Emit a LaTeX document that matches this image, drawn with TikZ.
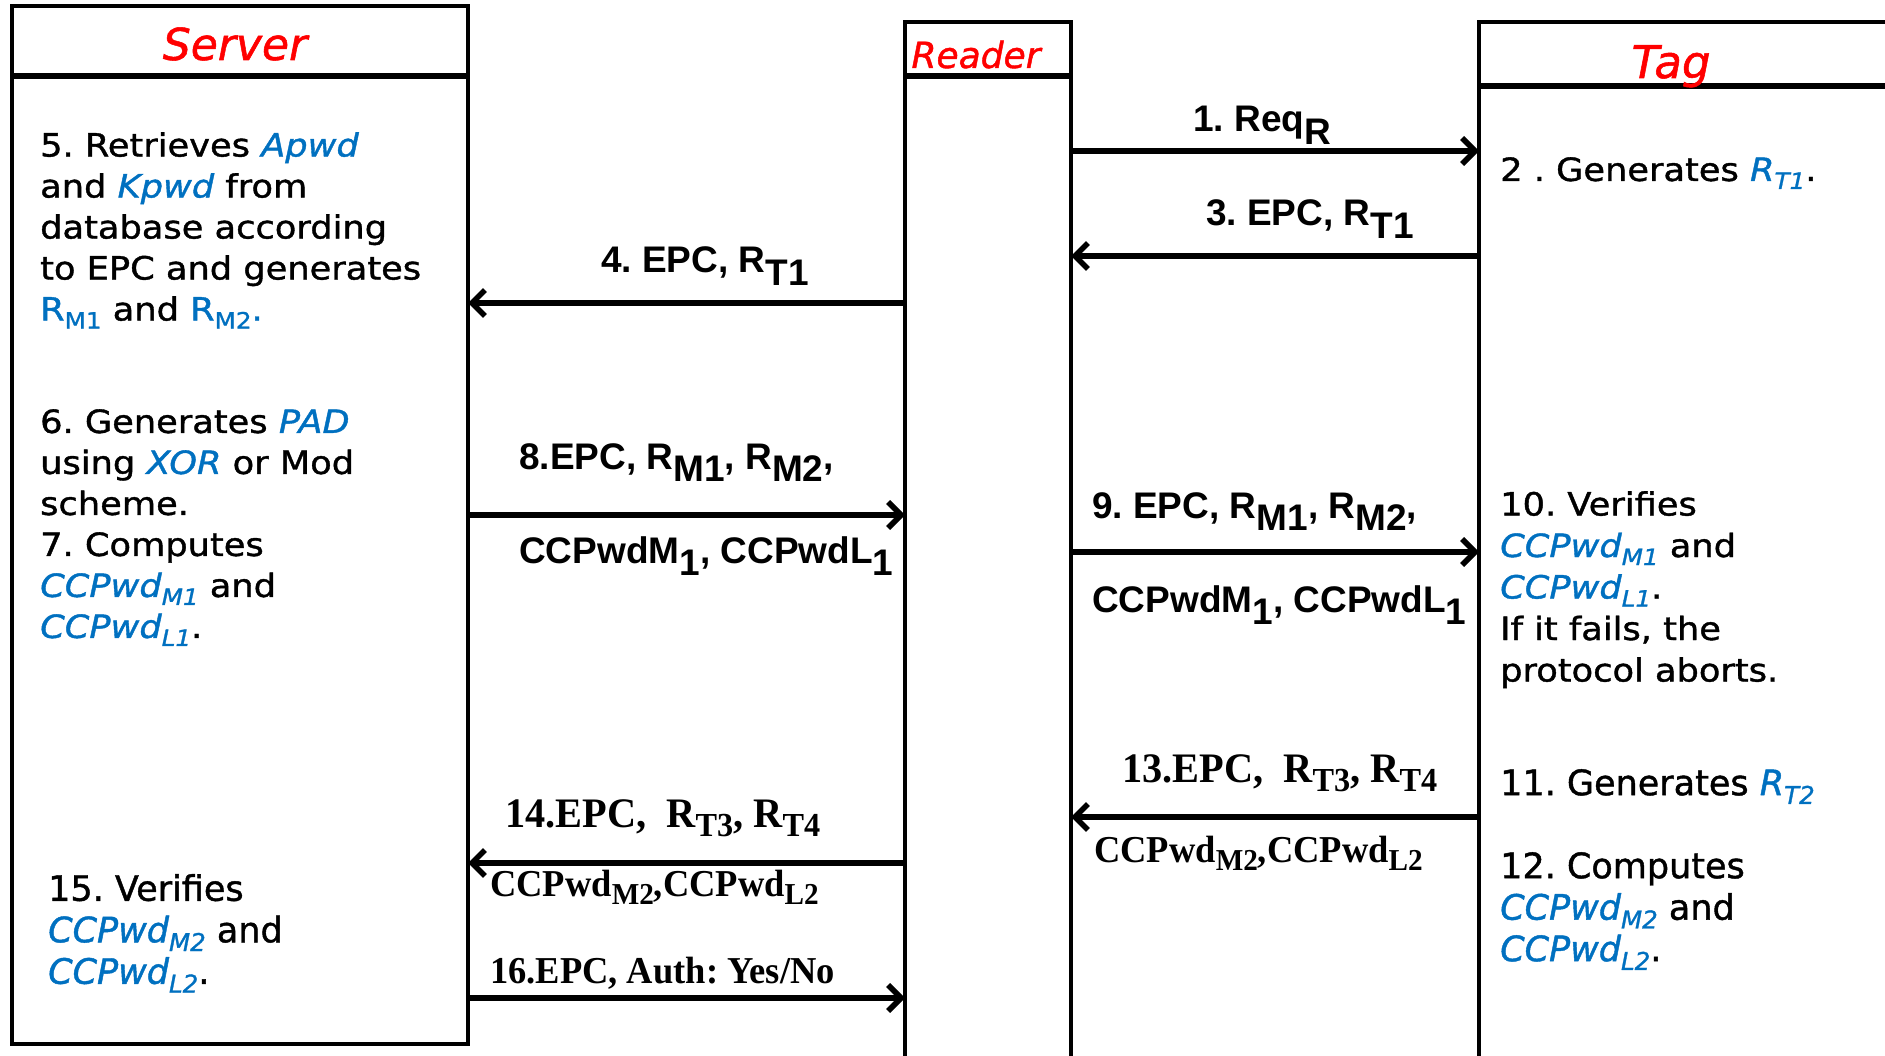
\documentclass[tikz,border=0pt]{standalone}
\usepackage{fontspec}
\usepackage{graphicx}
\usetikzlibrary{arrows.meta}
\newfontfamily\handw{DejaVu Sans}[FakeStretch=1.1,FakeBold=1.2]
\newfontfamily\handn{DejaVu Sans}[FakeBold=1.2]
\newfontfamily\arl{Liberation Sans}
\newfontfamily\tms{Liberation Serif}[FakeStretch=0.96]
\definecolor{myblue}{HTML}{0070C0}
\definecolor{myred}{HTML}{FF0000}
\newcommand\hsub[1]{\raisebox{-0.25em}{\scalebox{0.7}{#1}}}
\newcommand\lo[1]{\raisebox{-0.33em}{#1}}
\newcommand\tsub[1]{\raisebox{-0.22em}{\scalebox{0.8}{#1}}}
\newcommand\hbl[1]{{\color{myblue}\itshape #1}}
\newcommand\hblu[1]{{\color{myblue}#1}}
\frenchspacing
\begin{document}
\begin{tikzpicture}[x=1pt,y=-1pt,
  box/.style={draw, line width=4.5pt, inner sep=0pt, outer sep=0pt, anchor=north west},
  hdr/.style={line width=6pt},
  msg/.style={line width=5.5pt, -{Straight Barb[length=13pt,width=26pt]}},
  ttl/.style={anchor=base, inner sep=0pt, text=myred, font=\handn\itshape},
  lbla/.style={anchor=base west, inner sep=0pt, font=\arl\bfseries\fontsize{37}{44}\selectfont},
  lblt/.style={anchor=base west, inner sep=0pt, font=\tms\bfseries\fontsize{42}{50}\selectfont},
  lbls/.style={anchor=base west, inner sep=0pt, font=\tms\bfseries\fontsize{38}{46}\selectfont},
  blk/.style={anchor=north west, inner sep=0pt, align=left, font=\handw\fontsize{32}{41}\selectfont},
  blkn/.style={anchor=north west, inner sep=0pt, align=left, font=\handn\fontsize{35}{41.5}\selectfont}]
\useasboundingbox[fill=white] (0,0) rectangle (1885,1056);

% lifeline boxes
\node[box, minimum width=456pt, minimum height=1038pt] (server) at (12,6) {};
\node[box, minimum width=166pt, minimum height=1060pt] (reader) at (905,22) {};
\node[box, minimum width=440pt, minimum height=1060pt] (tag) at (1479,22) {};
\draw[hdr] (server.west |- 0,76) -- (server.east |- 0,76);
\draw[hdr] (reader.west |- 0,76) -- (reader.east |- 0,76);
\draw[hdr] (tag.west |- 0,86) -- (1890,86);

% titles
\node[ttl, font=\handn\itshape\fontsize{44}{50}\selectfont] (tserver) at (235,60) {Server};
\node[ttl, font=\handn\itshape\fontsize{36}{42}\selectfont] (treader) at (976,68) {Reader};
\node[ttl, font=\handn\itshape\fontsize{45}{52}\selectfont] (ttag) at (1671,78) {Tag};

% messages
\draw[msg] (reader.east |- 0,151) -- (tag.west |- 0,151);
\draw[msg] (tag.west |- 0,256) -- (reader.east |- 0,256);
\draw[msg] (reader.west |- 0,303) -- (server.east |- 0,303);
\draw[msg] (server.east |- 0,515) -- (reader.west |- 0,515);
\draw[msg] (reader.east |- 0,552) -- (tag.west |- 0,552);
\draw[msg] (tag.west |- 0,817) -- (reader.east |- 0,817);
\draw[msg] (reader.west |- 0,863) -- (server.east |- 0,863);
\draw[msg] (server.east |- 0,998) -- (reader.west |- 0,998);

% message labels
\node[lbla] (m1) at (1193,132) {1. Req\lo{R}};
\node[lbla] (m3) at (1206,226) {3. EPC, R\lo{T1}};
\node[lbla] (m4) at (601,273) {4. EPC, R\lo{T1}};
\node[lbla] (m8a) at (519,469) {8.EPC, R\lo{M1}, R\lo{M2},};
\node[lbla] (m8b) at (519,563) {CCPwdM\lo{1}, CCPwdL\lo{1}};
\node[lbla] (m9a) at (1092,518) {9. EPC, R\lo{M1}, R\lo{M2},};
\node[lbla] (m9b) at (1092,612) {CCPwdM\lo{1}, CCPwdL\lo{1}};
\node[lblt] (m13a) at (1122,782) {13.EPC,\ \ R\tsub{T3}, R\tsub{T4}};
\node[lbls] (m13b) at (1094,862) {CCPwd\tsub{M2},CCPwd\tsub{L2}};
\node[lblt] (m14a) at (505,827) {14.EPC,\ \ R\tsub{T3}, R\tsub{T4}};
\node[lbls] (m14b) at (490,896) {CCPwd\tsub{M2},CCPwd\tsub{L2}};
\node[lbls] (m16) at (490,983) {16.EPC, Auth: Yes/No};

% server notes
\node[blk] (s5) at (40,132) {5. Retrieves \hbl{Apwd}\\and \hbl{Kpwd} from\\database according\\to EPC and generates\\\hblu{R\hsub{M1}} and \hblu{R\hsub{M2}.}};
\node[blk] (s6) at (40,409) {6. Generates \hbl{PAD}\\using \hbl{XOR} or Mod\\scheme.\\7. Computes\\\hbl{CCPwd\hsub{M1}} and\\\hbl{CCPwd\hsub{L1}}.};
\node[blkn] (s15) at (48,874) {15. Verifies\\\hbl{CCPwd\hsub{M2}} and\\\hbl{CCPwd\hsub{L2}}.};

% tag notes
\node[blk] (t2) at (1500,157) {2 . Generates \hbl{R\hsub{T1}}.};
\node[blk, font=\handw\fontsize{32}{41.5}\selectfont] (t10) at (1500,491) {10. Verifies\\\hbl{CCPwd\hsub{M1}} and\\\hbl{CCPwd\hsub{L1}}.\\If it fails, the\\protocol aborts.};
\node[blkn] (t11) at (1500,769) {11. Generates \hbl{R\hsub{T2}}};
\node[blkn] (t12) at (1500,852) {12. Computes\\\hbl{CCPwd\hsub{M2}} and\\\hbl{CCPwd\hsub{L2}}.};
\end{tikzpicture}
\end{document}
